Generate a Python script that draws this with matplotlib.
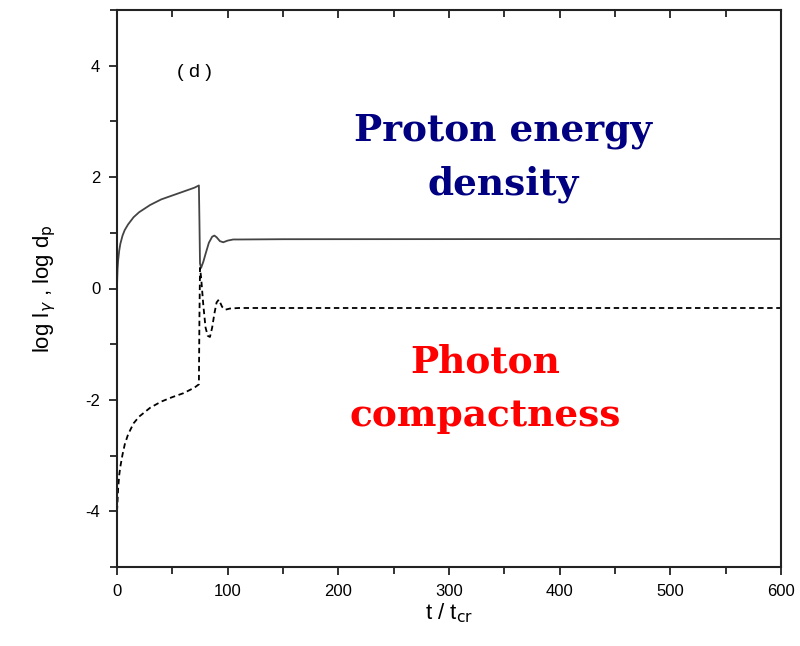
import matplotlib
matplotlib.use("Agg")
import matplotlib.pyplot as plt
from matplotlib.ticker import MultipleLocator

# log d_p (proton energy density), solid
t_p = [0, 0.5, 1, 2, 3, 5, 7, 10, 15, 20, 30, 40, 50, 60, 70, 74, 74.5, 75, 76, 78,
       80, 83, 86, 88, 90, 93, 96, 100, 105, 110, 150, 600]
d_p = [0.05, 0.35, 0.5, 0.68, 0.8, 0.95, 1.05, 1.15, 1.28, 1.37, 1.5, 1.6, 1.67, 1.74,
       1.81, 1.85, 1.2, 0.45, 0.37, 0.48, 0.62, 0.82, 0.93, 0.95, 0.92, 0.85, 0.83,
       0.86, 0.88, 0.88, 0.885, 0.89]

# log l_gamma (photon compactness), dashed
t_g = [0, 0.3, 1, 2, 3, 5, 7, 10, 15, 20, 30, 40, 50, 60, 70, 74, 74.5, 75, 76, 78,
       80, 82, 84, 86, 88, 90, 92, 95, 98, 102, 110, 600]
l_g = [-4.0, -3.9, -3.6, -3.35, -3.2, -2.98, -2.8, -2.62, -2.42, -2.3, -2.14, -2.03,
       -1.95, -1.88, -1.78, -1.72, -0.5, 0.37, 0.2, -0.3, -0.7, -0.85, -0.87, -0.7,
       -0.45, -0.25, -0.2, -0.33, -0.38, -0.36, -0.35, -0.35]

TICK_FONT = ["Liberation Sans Narrow", "Liberation Sans", "DejaVu Sans"]
plt.rcParams["axes.unicode_minus"] = False

fig = plt.figure(figsize=(8, 6.46), dpi=100, facecolor="white")
ax = fig.add_axes([117 / 800, 1 - 567 / 646, (781 - 117) / 800, (567 - 10) / 646])

ax.plot(t_p, d_p, color="#444444", lw=1.3, solid_joinstyle="round")
ax.plot(t_g, l_g, color="black", lw=1.3, dashes=(3, 2))

ax.set_xlim(0, 600)
ax.set_ylim(-5, 5)
ax.xaxis.set_major_locator(MultipleLocator(100))
ax.xaxis.set_minor_locator(MultipleLocator(50))
ax.yaxis.set_major_locator(MultipleLocator(2))
ax.yaxis.set_minor_locator(MultipleLocator(1))
ax.tick_params(which="both", direction="out", top=True, right=False,
               width=1.3, color="#222222")
ax.tick_params(which="major", length=6, labelsize=12, pad=6)
ax.tick_params(which="minor", length=5)
# top ticks point inward
for tk in ax.xaxis.get_major_ticks() + ax.xaxis.get_minor_ticks():
    tk.tick2line.set_marker(matplotlib.lines.TICKDOWN)
for lab in ax.get_xticklabels() + ax.get_yticklabels():
    lab.set_family(TICK_FONT)
for sp in ax.spines.values():
    sp.set_linewidth(1.5)
    sp.set_color("#222222")

ax.set_xlabel(r"t / t$_{\rm cr}$", fontsize=16, family=TICK_FONT, labelpad=2)
ax.set_ylabel(r"log l$_{\gamma}$ , log d$_{\rm p}$", fontsize=16, family=TICK_FONT,
              labelpad=20)

ax.text(54, 3.88, "( d )", fontsize=14, family=TICK_FONT, va="center")

ax.text(349, 2.35, "Proton energy\ndensity", ha="center", va="center",
        fontsize=27, fontweight="bold", family="DejaVu Serif", color="#000080",
        linespacing=1.55)
ax.text(333, -1.8, "Photon\ncompactness", ha="center", va="center",
        fontsize=27, fontweight="bold", family="DejaVu Serif", color="#ff0000",
        linespacing=1.55)

fig.savefig("out.png", dpi=100, facecolor="white")
